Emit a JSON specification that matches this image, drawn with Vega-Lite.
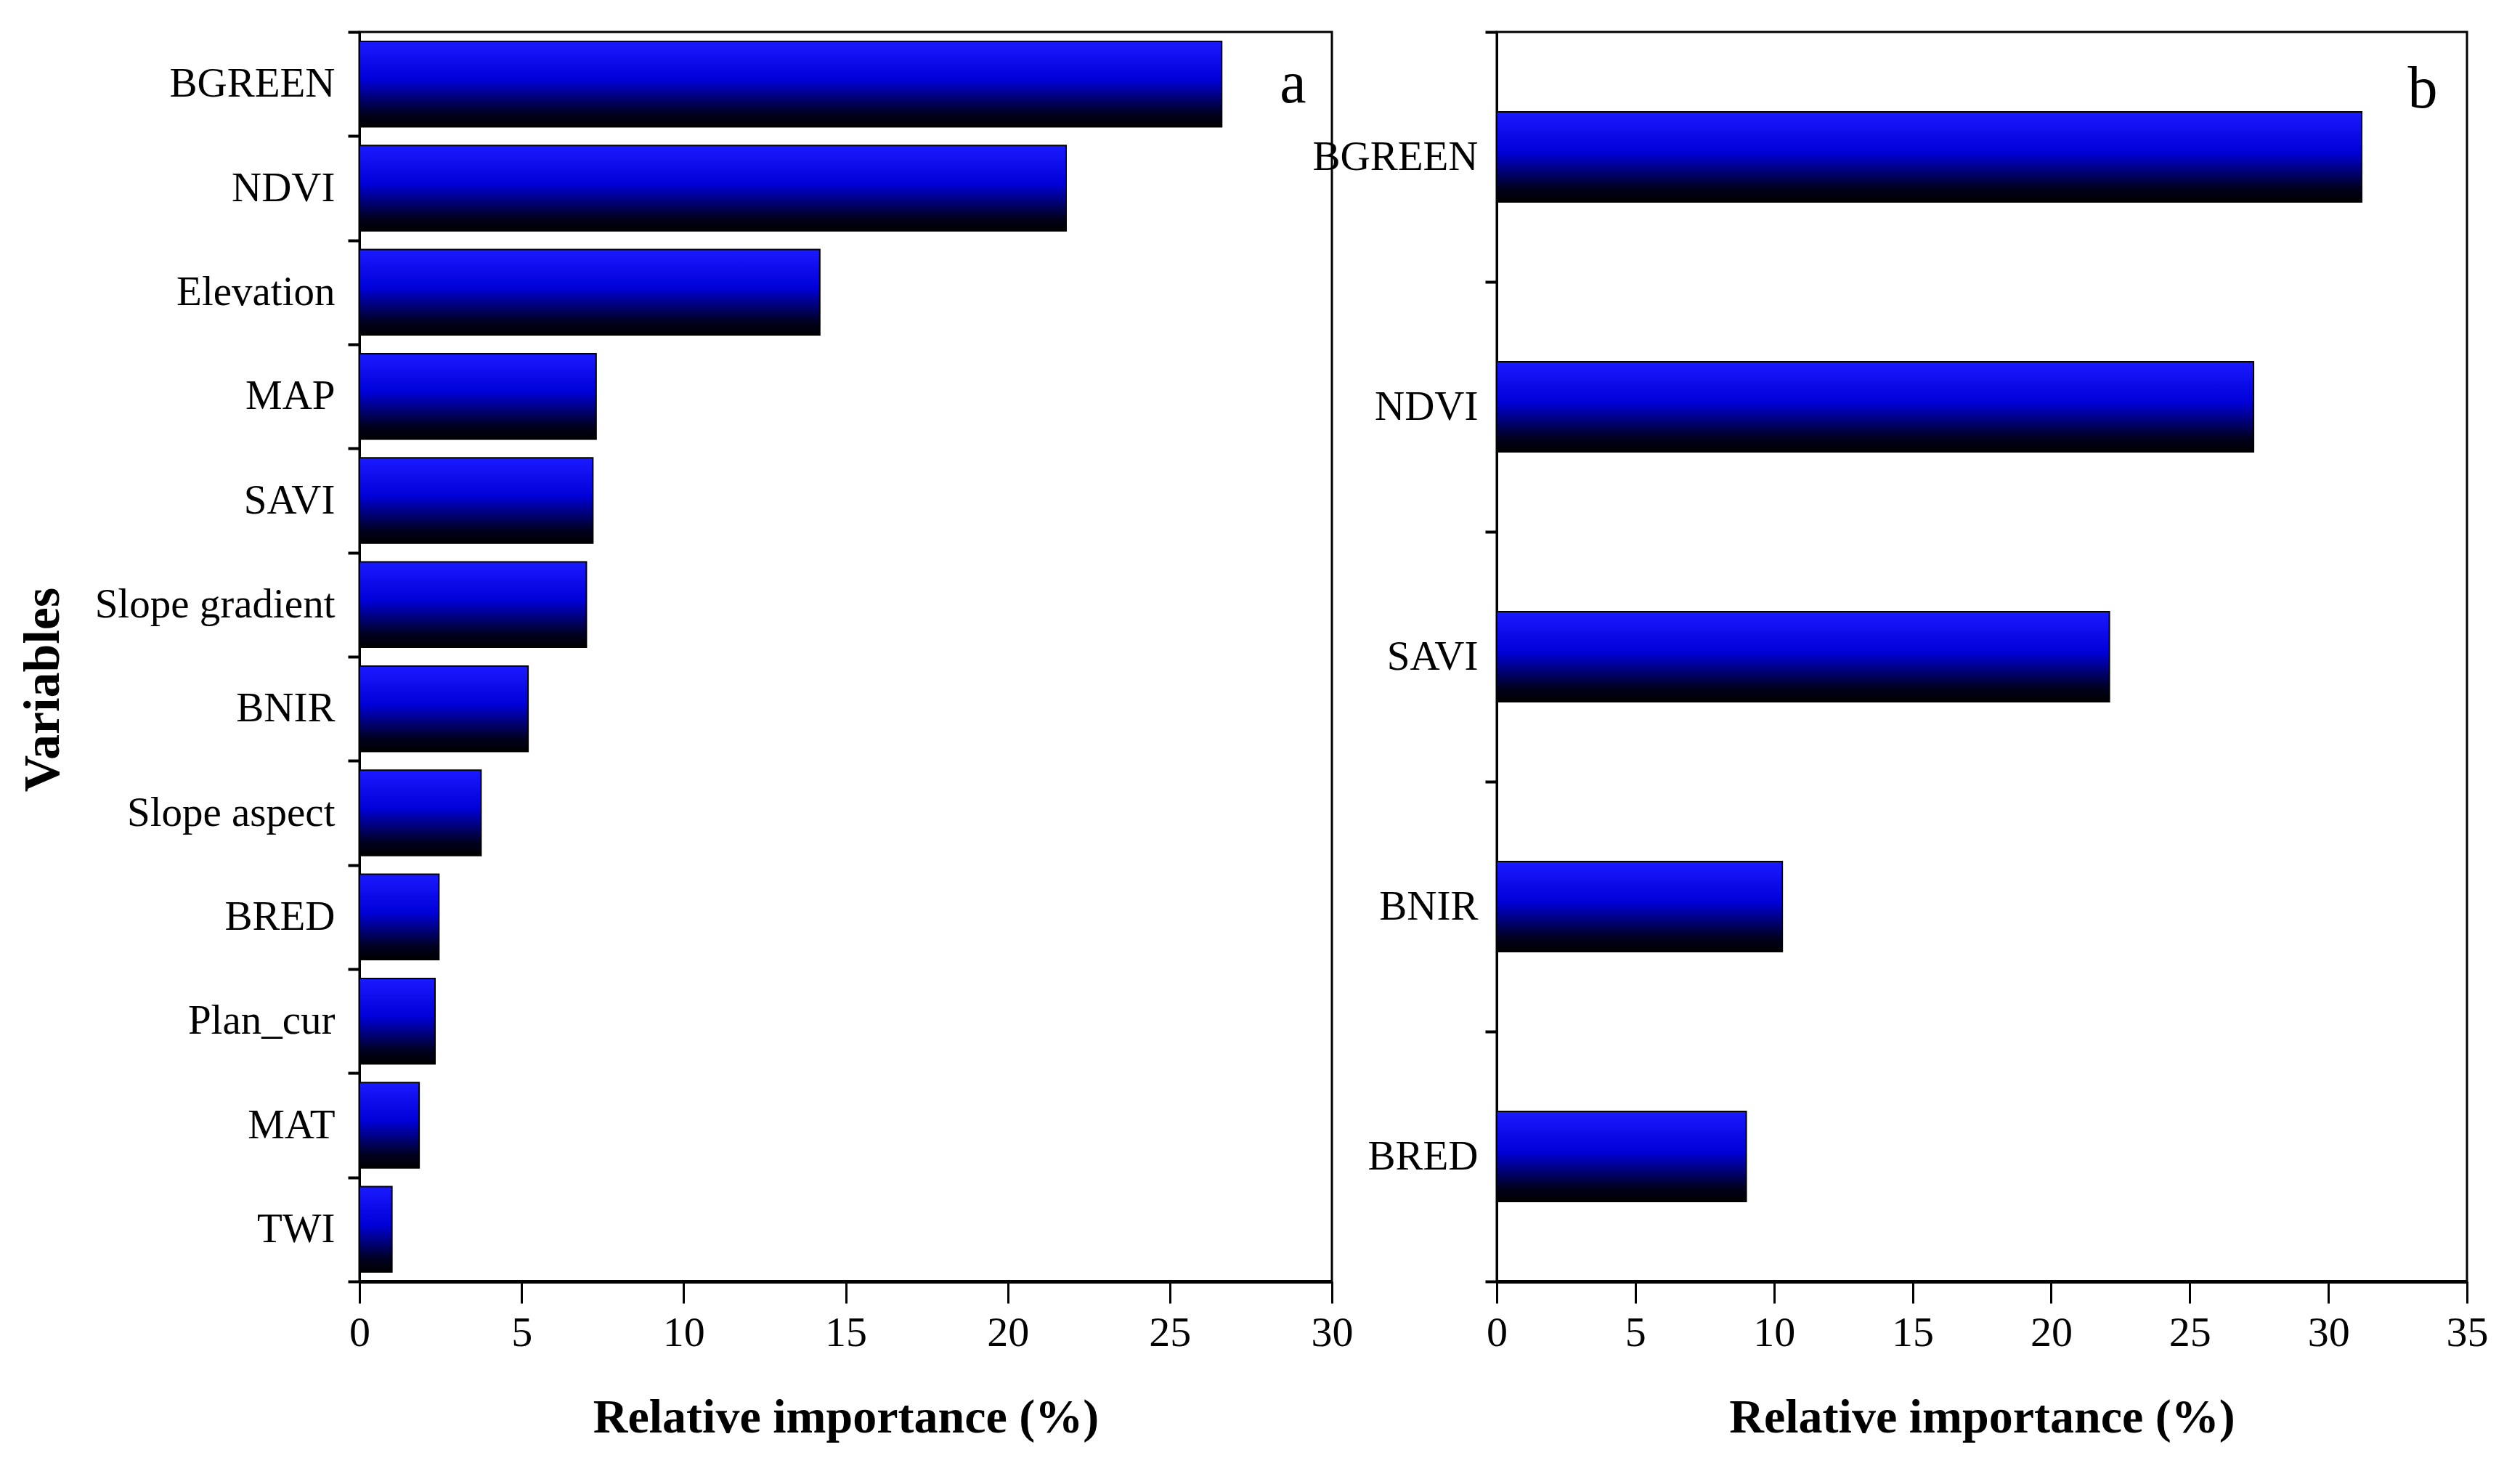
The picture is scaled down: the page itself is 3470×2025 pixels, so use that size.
{
  "$schema": "https://vega.github.io/schema/vega-lite/v6.json",
  "background": "white",
  "padding": {"left": 22, "top": 13, "right": 5, "bottom": 5},
  "bounds": "flush",
  "spacing": 227,
  "config": {
    "font": "Liberation Serif",
    "view": {"stroke": "black", "strokeWidth": 3},
    "axis": {
      "labelFont": "Liberation Serif",
      "titleFont": "Liberation Serif",
      "labelColor": "black",
      "titleColor": "black",
      "domainColor": "black",
      "tickColor": "black",
      "labelLimit": 1000,
      "labelFlush": false,
      "grid": false
    }
  },
  "hconcat": [
    {
      "width": 1339,
      "height": 1720,
      "layer": [
        {
          "data": {
            "values": [
              {"variable": "BGREEN", "importance": 26.6},
              {"variable": "NDVI", "importance": 21.8},
              {"variable": "Elevation", "importance": 14.2},
              {"variable": "MAP", "importance": 7.3},
              {"variable": "SAVI", "importance": 7.2},
              {"variable": "Slope gradient", "importance": 7.0},
              {"variable": "BNIR", "importance": 5.2},
              {"variable": "Slope aspect", "importance": 3.75},
              {"variable": "BRED", "importance": 2.45},
              {"variable": "Plan_cur", "importance": 2.33},
              {"variable": "MAT", "importance": 1.84},
              {"variable": "TWI", "importance": 1.0}
            ]
          },
          "mark": {
            "type": "bar",
            "height": {"band": 0.82},
            "stroke": "black",
            "strokeWidth": 2,
            "color": {
              "gradient": "linear",
              "x1": 0, "y1": 0, "x2": 0, "y2": 1,
              "stops": [
                {"offset": 0, "color": "#1a1aff"},
                {"offset": 0.45, "color": "#0000d8"},
                {"offset": 0.85, "color": "#000020"},
                {"offset": 1, "color": "#000000"}
              ]
            }
          },
          "encoding": {
            "y": {
              "field": "variable",
              "type": "nominal",
              "sort": null,
              "scale": {"paddingInner": 0, "paddingOuter": 0},
              "axis": {
                "title": "Variables",
                "titleFontSize": 70,
                "titleFontWeight": "bold",
                "titleX": -400,
                "titleY": 905,
                "labelFontSize": 57,
                "labelPadding": 18,
                "tickSize": 16,
                "tickWidth": 4,
                "tickBand": "extent",
                "domainWidth": 3
              }
            },
            "x": {
              "field": "importance",
              "type": "quantitative",
              "scale": {"domain": [0, 30], "nice": false},
              "axis": {
                "values": [0, 5, 10, 15, 20, 25, 30],
                "title": "Relative importance (%)",
                "titleFontSize": 66,
                "titleFontWeight": "bold",
                "titlePadding": 55,
                "labelFontSize": 58,
                "labelPadding": 12,
                "tickSize": 30,
                "tickWidth": 3,
                "domainWidth": 5
              }
            }
          }
        },
        {
          "data": {"values": [{"panel": "a"}]},
          "mark": {"type": "text", "fontSize": 82, "font": "Liberation Serif", "color": "black", "baseline": "middle"},
          "encoding": {
            "text": {"field": "panel"},
            "x": {"datum": 28.8},
            "y": {"datum": "BGREEN", "type": "nominal", "bandPosition": 0.5}
          }
        }
      ]
    },
    {
      "width": 1336,
      "height": 1720,
      "layer": [
        {
          "data": {
            "values": [
              {"variable": "BGREEN", "importance": 31.2},
              {"variable": "NDVI", "importance": 27.3},
              {"variable": "SAVI", "importance": 22.1},
              {"variable": "BNIR", "importance": 10.3},
              {"variable": "BRED", "importance": 9.0}
            ]
          },
          "mark": {
            "type": "bar",
            "height": {"band": 0.36},
            "stroke": "black",
            "strokeWidth": 2,
            "color": {
              "gradient": "linear",
              "x1": 0, "y1": 0, "x2": 0, "y2": 1,
              "stops": [
                {"offset": 0, "color": "#1a1aff"},
                {"offset": 0.45, "color": "#0000d8"},
                {"offset": 0.85, "color": "#000020"},
                {"offset": 1, "color": "#000000"}
              ]
            }
          },
          "encoding": {
            "y": {
              "field": "variable",
              "type": "nominal",
              "sort": null,
              "scale": {"paddingInner": 0, "paddingOuter": 0},
              "axis": {
                "title": null,
                "labelFontSize": 57,
                "labelPadding": 10,
                "tickSize": 16,
                "tickWidth": 4,
                "tickBand": "extent",
                "domainWidth": 3
              }
            },
            "x": {
              "field": "importance",
              "type": "quantitative",
              "scale": {"domain": [0, 35], "nice": false},
              "axis": {
                "values": [0, 5, 10, 15, 20, 25, 30, 35],
                "title": "Relative importance (%)",
                "titleFontSize": 66,
                "titleFontWeight": "bold",
                "titlePadding": 55,
                "labelFontSize": 58,
                "labelPadding": 12,
                "tickSize": 30,
                "tickWidth": 3,
                "domainWidth": 5
              }
            }
          }
        },
        {
          "data": {"values": [{"panel": "b"}]},
          "mark": {"type": "text", "fontSize": 82, "font": "Liberation Serif", "color": "black", "baseline": "middle", "dy": -93},
          "encoding": {
            "text": {"field": "panel"},
            "x": {"datum": 33.4},
            "y": {"datum": "BGREEN", "type": "nominal", "bandPosition": 0.5}
          }
        }
      ]
    }
  ]
}
